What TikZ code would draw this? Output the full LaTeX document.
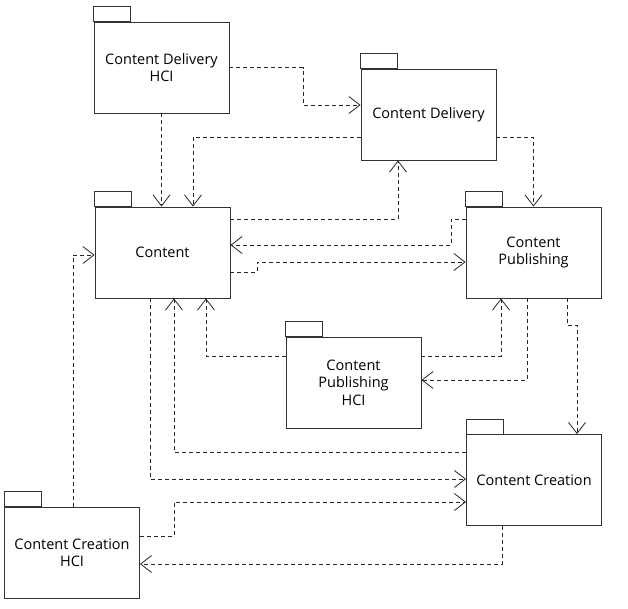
\documentclass[tikz,border=0pt]{standalone}
\usepackage{fontspec}
\setmainfont{Open Sans}
\usetikzlibrary{arrows.meta}
\tikzset{
  pkgbox/.style={draw=black!80, line width=0.95pt, rectangle, minimum width=135pt, minimum height=91pt,
    inner sep=0pt, align=center, font=\fontsize{14.5}{17.5}\selectfont, text=black},
  pkgtab/.style={draw=black!80, line width=0.95pt},
  dep/.style={draw=black!85, line width=0.8pt, dash pattern=on 4pt off 3pt,
    -{Straight Barb[length=11pt,width=17pt,line width=0.8pt]}},
}
\begin{document}
\begin{tikzpicture}[x=1pt,y=-1pt]
\fill[white] (0,0) rectangle (628,608);
\useasboundingbox (0,0) rectangle (628,608);

\node[pkgbox] (cdh) at (161.5,67.5) {Content Delivery\\HCI};
\node[pkgbox] (cd)  at (428.5,114.5) {Content Delivery};
\node[pkgbox] (con) at (162.5,252.5) {Content};
\node[pkgbox] (cp)  at (533.5,252.5) {Content\\Publishing};
\node[pkgbox] (cph) at (353.5,382.5) {Content\\Publishing\\HCI};
\node[pkgbox] (cc)  at (534,480) {Content Creation};
\node[pkgbox] (cch) at (72,552.5) {Content Creation\\HCI};

\foreach \n in {cdh,cd,con,cp,cph,cc,cch}
  \draw[pkgtab] (\n.north west) rectangle ++(37,-15);

% connectors
\draw[dep] (cdh.south) -- (cdh.south |- con.north);
\draw[dep] (cdh.east) -| (303,105) -- (cd.west |- 0,105);
\draw[dep] (cd.west |- 0,137) -| (con.north -| 193,0);
\draw[dep] (con.east |- 0,219) -| (cd.south -| 398,0);
\draw[dep] (cd.east |- 0,137) -| (cp.north);
\draw[dep] (cp.west |- 0,219) -| (451,245) -- (con.east |- 0,245);
\draw[dep] (con.east |- 0,272) -| (257,262) -- (cp.west |- 0,262);
\draw[dep] (con.south -| 150,0) |- (cc.west |- 0,479);
\draw[dep] (cc.west |- 0,452) -| (con.south -| 174,0);
\draw[dep] (cph.west |- 0,356) -| (con.south -| 206,0);
\draw[dep] (cph.east |- 0,356) -| (cp.south -| 501,0);
\draw[dep] (cp.south -| 527,0) |- (cph.east |- 0,380);
\draw[dep] (cp.south -| 567,0) |- (577,325) -- (cc.north -| 577,0);
\draw[dep] (cch.north -| 73,0) |- (con.west |- 0,255);
\draw[dep] (cch.east |- 0,536) -| (174,502) -- (cc.west |- 0,502);
\draw[dep] (cc.south -| 502,0) |- (cch.east |- 0,564);
\end{tikzpicture}
\end{document}
